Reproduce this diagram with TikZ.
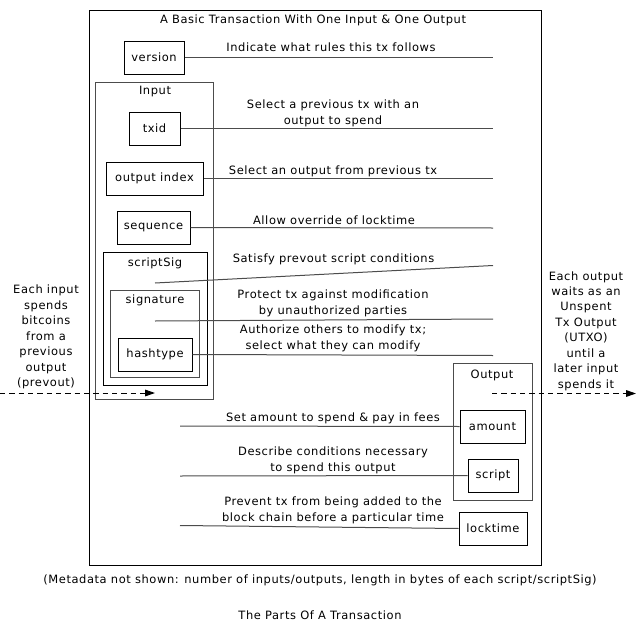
\documentclass[tikz,border=0pt]{standalone}
\usepackage{fontspec}
\setmainfont{DejaVu Sans}
\newfontfamily\bodyfont[LetterSpace=5]{DejaVu Sans}
\usetikzlibrary{arrows.meta}
\begin{document}
\begin{tikzpicture}[x=0.75pt,y=-0.75pt,
  every node/.style={font=\fontsize{8.6}{12}\bodyfont},
  field/.style={draw=black,line width=0.75pt,inner sep=0pt,minimum height={33*0.75pt}},
  cluster/.style={draw=black!70,line width=0.75pt},
  lbl/.style={inner sep=0pt,align=center},
  note/.style={draw=black!70,line width=0.75pt},
  foot/.style={inner sep=0pt},
  flow/.style={draw=black,line width=0.75pt,dashed,dash pattern=on 4pt off 3pt,
    -{Triangle[length=7.5pt,width=5pt]}}]
\useasboundingbox (0,0) rectangle (640,632);

% clusters
\draw[draw=black,line width=0.75pt] (89,10) rectangle (541,565);
\node[lbl] (ttl) at (313,20) {A Basic Transaction With One Input \& One Output};
\draw[cluster] (95,82) rectangle (213,399);
\node[lbl] (inputttl) at (155,92) {Input};
\draw[draw=black,line width=0.75pt] (103,252) rectangle (207,385);
\node[lbl] (sigttl) at (155,263) {scriptSig};
\draw[cluster] (110,290) rectangle (199,377);
\node[lbl] (signttl) at (155,300) {signature};
\draw[cluster] (453,363) rectangle (532,500);
\node[lbl] (outttl) at (492,375) {Output};

% fields
\node[field,minimum width={60*0.75pt}] (version) at (154,57.5) {version};
\node[field,minimum width={51*0.75pt}] (txid) at (154.5,128.5) {txid};
\node[field,minimum width={97*0.75pt}] (outidx) at (154.5,178.5) {output index};
\node[field,minimum width={73*0.75pt}] (sequence) at (153.5,227.5) {sequence};
\node[field,minimum width={74*0.75pt}] (hashtype) at (155,354.5) {hashtype};
\node[field,minimum width={65*0.75pt}] (amount) at (492.5,426.5) {amount};
\node[field,minimum width={50*0.75pt}] (script) at (493,475.5) {script};
\node[field,minimum width={68*0.75pt}] (locktime) at (493,528.5) {locktime};

% free ends of the explanation lines
\coordinate (eversion) at (493,57.5);
\coordinate (etxid) at (493,128.5);
\coordinate (eoutidx) at (493,178.5);
\coordinate (esequence) at (493,228);
\coordinate (sscript) at (155,283);
\coordinate (escript) at (493,265.5);
\coordinate (ssign) at (155,321);
\coordinate (esign) at (493,319);
\coordinate (ehash) at (493,355.5);
\coordinate (samount) at (180,426);
\coordinate (sscr) at (180,476);
\coordinate (slock) at (180,525.5);

\draw[note] (version.east) -- (eversion);
\draw[note] (txid.east) -- (etxid);
\draw[note] (outidx.east) -- (eoutidx);
\draw[note] (sequence.east) -- (esequence);
\draw[note] (sscript) -- (escript);
\draw[note] (ssign) -- (esign);
\draw[note] (hashtype.east) -- (ehash);
\draw[note] (samount) -- (amount.west);
\draw[note] (sscr) -- (script.west);
\draw[note] (slock) -- (locktime.west);

% explanations
\node[lbl] (lversion) at (331,47.5) {Indicate what rules this tx follows};
\node[lbl] (ltxid) at (333,113) {Select a previous tx with an\\output to spend};
\node[lbl] (loutidx) at (333,171) {Select an output from previous tx};
\node[lbl] (lsequence) at (334,220) {Allow override of locktime};
\node[lbl] (lscript) at (333.5,259) {Satisfy prevout script conditions};
\node[lbl] (lsign) at (333,303) {Protect tx against modification\\by unauthorized parties};
\node[lbl] (lhash) at (333,338.5) {Authorize others to modify tx;\\select what they can modify};
\node[lbl] (lamount) at (333,418) {Set amount to spend \& pay in fees};
\node[lbl] (lscr) at (333,460) {Describe conditions necessary\\to spend this output};
\node[lbl] (llock) at (333,510) {Prevent tx from being added to the\\block chain before a particular time};

% spending flow
\coordinate (prevout) at (0,393);
\coordinate (intip) at (155,393);
\coordinate (outstart) at (492,393.5);
\coordinate (utxo) at (636,393.5);
\draw[flow] (prevout) -- (intip);
\draw[flow] (outstart) -- (utxo);
\node[lbl,font=\fontsize{8.6}{11.6}\bodyfont] (linput) at (46,337)
  {Each input\\spends\\bitcoins\\from a\\previous\\output\\(prevout)};
\node[lbl,font=\fontsize{8.6}{11.6}\bodyfont] (routput) at (586,331)
  {Each output\\waits as an\\Unspent\\Tx Output\\(UTXO)\\until a\\later input\\spends it};

% footer
\node[foot] (meta) at (320,580) {(Metadata not shown: number of inputs/outputs, length in bytes of each script/scriptSig)};
\node[foot] (caption) at (320,615) {The Parts Of A Transaction};
\end{tikzpicture}
\end{document}
